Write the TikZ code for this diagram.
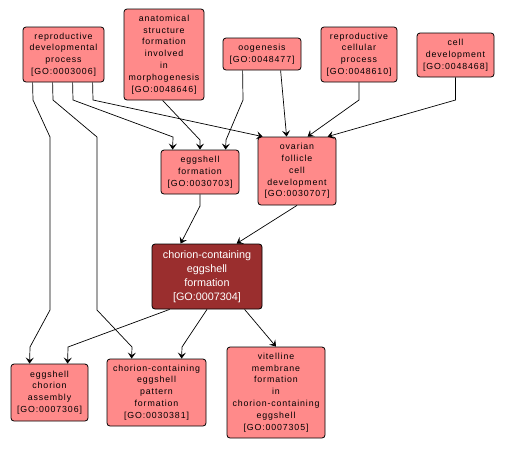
\documentclass[tikz,border=0pt]{standalone}
\usepackage{fontspec}
\usepackage{tikz}
\usetikzlibrary{arrows.meta,positioning,calc}
\usepackage{xcolor}
\newfontfamily\termfont[LetterSpace=10]{Liberation Sans}
\newfontfamily\seedfont{Liberation Sans}
\definecolor{termfill}{HTML}{FF8A8A}
\definecolor{seedfill}{HTML}{9A2E2E}

\begin{document}
\begin{tikzpicture}[
    x=1pt, y=-1pt,
    term/.style={draw, rounded corners=3pt, line width=0.8pt, fill=termfill, align=center, inner sep=1pt, font=\termfont\fontsize{8.8}{11.8}\selectfont},
    seed/.style={draw, rounded corners=3pt, line width=0.8pt, fill=seedfill, text=white, align=center, inner sep=1pt, font=\seedfont\fontsize{10.8}{14}\selectfont},
    rel/.style={-{Stealth[length=6pt, width=8pt, inset=2.5pt]}, line width=0.7pt}
]
\useasboundingbox[fill=white] (0,0) rectangle (506,448);

\node[term, minimum width=81, minimum height=55] (rdp) at (63.5,54.5) {reproductive\\developmental\\process\\{[GO:0003006]}};
\node[term, minimum width=80, minimum height=91] (asf) at (164,54.5) {anatomical\\structure\\formation\\involved\\in\\morphogenesis\\{[GO:0048646]}};
\node[term, minimum width=78, minimum height=32] (oog) at (262,54) {oogenesis\\{[GO:0048477]}};
\node[term, minimum width=76, minimum height=55] (rcp) at (359,54.5) {reproductive\\cellular\\process\\{[GO:0048610]}};
\node[term, minimum width=77, minimum height=44] (cdev) at (455.5,55) {cell\\development\\{[GO:0048468]}};

\node[term, minimum width=78, minimum height=44] (esf) at (200,172) {eggshell\\formation\\{[GO:0030703]}};
\node[term, minimum width=78, minimum height=68] (ofcd) at (297,171) {ovarian\\follicle\\cell\\development\\{[GO:0030707]}};

\node[seed, minimum width=110, minimum height=65] (cef) at (207,276.5) {chorion-containing\\eggshell\\formation\\{[GO:0007304]}};

\node[term, minimum width=77, minimum height=57] (eca) at (49.5,392.5) {eggshell\\chorion\\assembly\\{[GO:0007306]}};
\node[term, minimum width=99, minimum height=67] (cpf) at (156.5,392.5) {chorion-containing\\eggshell\\pattern\\formation\\{[GO:0030381]}};
\node[term, minimum width=98, minimum height=91] (vmf) at (276,392.5) {vitelline\\membrane\\formation\\in\\chorion-containing\\eggshell\\{[GO:0007305]}};

\draw[rel] ([xshift=10]rdp.south west) -- (33,100) -- (50,137) -- (50,310) -- (30,347) -- ([xshift=19]eca.north west);
\draw[rel] ([xshift=30]rdp.south west) -- (53,100) -- (97,137) -- (97,310) -- (132,347) -- ([xshift=25]cpf.north west);
\draw[rel] ([xshift=50]rdp.south west) -- (73,100) -- (173,137) -- ([xshift=12]esf.north west);
\draw[rel] ([xshift=70]rdp.south west) -- (93,100) -- ([xshift=5]ofcd.north west);

\draw[rel] ([xshift=39]asf.south west) -- (200,140) -- (esf.north);
\draw[rel] ([xshift=20]oog.south west) -- (243,100) -- (226,140) -- ([xshift=65]esf.north west);
\draw[rel] ([xshift=58]oog.south west) -- ([xshift=29]ofcd.north west);
\draw[rel] (rcp.south) -- (359,100) -- ([xshift=50]ofcd.north west);
\draw[rel] (cdev.south) -- (455.5,100) -- ([xshift=70]ofcd.north west);

\draw[rel] (esf.south) -- (200,206) -- ([xshift=29]cef.north west);
\draw[rel] (ofcd.south) -- ([xshift=85]cef.north west);

\draw[rel] ([xshift=18]cef.south west) -- (68,347) -- ([xshift=57]eca.north west);
\draw[rel] (cef.south) -- (182,347) -- ([xshift=75]cpf.north west);
\draw[rel] ([xshift=93]cef.south west) -- (vmf.north);
\end{tikzpicture}
\end{document}
